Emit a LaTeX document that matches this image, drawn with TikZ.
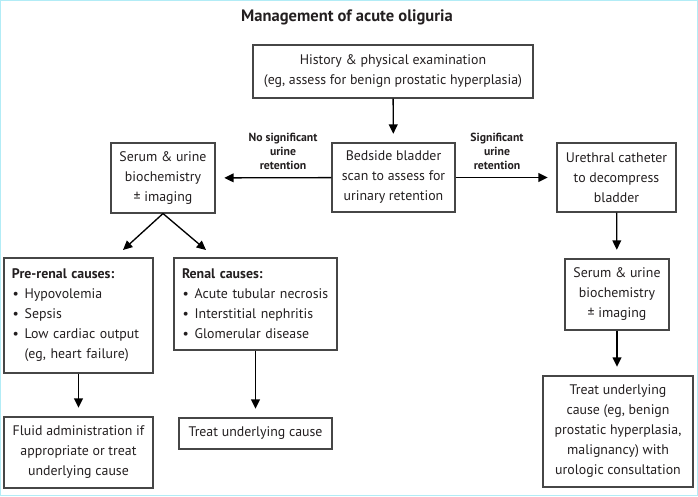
\documentclass[tikz,border=0pt]{standalone}
\usepackage{fontspec}
\setmainfont{PT Sans}
\usetikzlibrary{arrows.meta,positioning}
\definecolor{olborder}{RGB}{70,70,70}
\definecolor{oltext}{RGB}{35,31,32}
\definecolor{olframe}{RGB}{178,236,246}
\newcommand{\olitem}[1]{\mbox{\hspace*{0.5pt}\makebox[9pt][l]{\textbullet}#1}}

\begin{document}
\begin{tikzpicture}[x=0.75pt,y=-0.75pt,
  box/.style={draw=olborder, line width=0.8pt, align=center, inner sep=0pt, text=oltext,
    font=\fontsize{10.4}{15}\selectfont},
  listbox/.style={box, align=left, inner xsep=6pt},
  arr/.style={-{Triangle[length=7pt,width=6.5pt]}, line width=1pt, shorten >=6.5pt},
  lbl/.style={font=\fontsize{8.8}{10.5}\selectfont\bfseries, align=center, text=oltext}]
\useasboundingbox (0,0) rectangle (698,496);
\draw[olframe, line width=1pt] (0.5,0.5) rectangle (697.5,495.5);
% Title
\node[font=\fontsize{12.4}{14}\selectfont\bfseries, text=oltext] (title) at (347,17) {Management of acute oliguria};
% Top boxes
\node[box, minimum width=210pt, minimum height=39.75pt] (hist) at (393,71.5)
  {History \& physical examination\\(eg, assess for benign prostatic hyperplasia)};
\node[box, minimum width=92.25pt, minimum height=51.75pt] (scan) at (393.5,177.5)
  {Bedside bladder\\scan to assess for\\urinary retention};
\node[box, minimum width=78pt, minimum height=52.5pt] (labL) at (163,178)
  {Serum \& urine\\biochemistry\\± imaging};
\node[box, minimum width=89.25pt, minimum height=51.75pt] (cath) at (616.5,177.5)
  {Urethral catheter\\to decompress\\bladder};
% Right branch
\node[box, minimum width=78pt, minimum height=53.25pt] (labR) at (617,294.5)
  {Serum \& urine\\biochemistry\\± imaging};
\node[box, minimum width=112.5pt, minimum height=83.25pt] (treatR) at (618,431.5)
  {Treat underlying\\cause (eg, benign\\prostatic hyperplasia,\\malignancy) with\\urologic consultation};
% Left branch
\node[listbox, text width=99.75pt, minimum height=86.25pt] (prerenal) at (78.5,315.5)
  {\textbf{Pre-renal causes:}\\\olitem{Hypovolemia}\\\olitem{Sepsis}\\\olitem{Low cardiac output}\\\hspace*{9.5pt}(eg, heart failure)};
\node[listbox, text width=110.25pt, minimum height=69pt] (renal) at (255.5,304)
  {\textbf{Renal causes:}\\\olitem{Acute tubular necrosis}\\\olitem{Interstitial nephritis}\\\olitem{Glomerular disease}};
\node[box, minimum width=111.75pt, minimum height=53.25pt] (fluid) at (78.5,452.5)
  {Fluid administration if\\appropriate or treat\\underlying cause};
\node[box, minimum width=114.75pt, minimum height=23.25pt] (treatM) at (255.5,433.5)
  {Treat underlying cause};
\coordinate (preTip) at (123,250);
\coordinate (renTip) at (206,250);
% Arrows
\draw[arr] (hist) -- (scan);
\draw[arr] (scan) -- (labL);
\draw[arr] (scan) -- (cath);
\draw[arr] (cath) -- (labR);
\draw[arr] (labR.south) -- (labR.south |- treatR.north);
\draw[arr, shorten >=0pt] (labL.south) -- (preTip);
\draw[arr, shorten >=0pt] (labL.south) -- (renTip);
\draw[arr] (prerenal) -- (fluid);
\draw[arr] (renal) -- (treatM);
% Arrow labels
\node[lbl] (noret) at (283,151) {No significant\\urine\\retention};
\node[lbl] (ret) at (497,151) {Significant\\urine\\retention};
\end{tikzpicture}
\end{document}
